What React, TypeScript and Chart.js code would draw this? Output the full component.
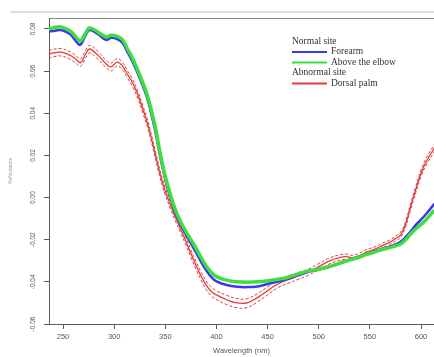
import React, { useEffect, useRef } from 'react';
import { Chart, registerables } from 'chart.js';

Chart.register(...registerables);

// Wavelength (nm)
const wavelengths = [
  236, 240, 248, 257, 263, 267, 272, 276, 284, 292, 297, 303, 308, 313, 318, 323, 328, 333, 340, 345,
  350, 355, 360, 365, 370, 375, 380, 385, 390, 395, 400, 410, 420, 430, 440, 450, 460, 470, 480, 490,
  500, 510, 520, 527, 533, 540, 547, 555, 562, 569, 575, 580, 585, 590, 595, 600, 605, 613,
];

// Normal site – Above the elbow
const aboveElbow = [
  0.0800, 0.0805, 0.0810, 0.0790, 0.0760, 0.0743, 0.0780, 0.0805, 0.0786, 0.0762, 0.0770, 0.0765, 0.0750, 0.0705, 0.0660, 0.0605, 0.0545, 0.0476, 0.0340, 0.0210,
  0.0100, 0.0015, -0.0060, -0.0115, -0.0160, -0.0200, -0.0240, -0.0285, -0.0325, -0.0355, -0.0375, -0.0392, -0.0400, -0.0402, -0.0400, -0.0395, -0.0388, -0.0378, -0.0362, -0.0348,
  -0.0340, -0.0328, -0.0312, -0.0302, -0.0292, -0.0282, -0.0270, -0.0258, -0.0247, -0.0238, -0.0230, -0.0220, -0.0200, -0.0172, -0.0148, -0.0128, -0.0105, -0.0060,
];

// Normal site – Forearm
const forearm = [
  0.0788, 0.0790, 0.0795, 0.0775, 0.0740, 0.0725, 0.0770, 0.0795, 0.0776, 0.0748, 0.0758, 0.0752, 0.0735, 0.0690, 0.0645, 0.0590, 0.0530, 0.0460, 0.0320, 0.0195,
  0.0085, 0.0000, -0.0075, -0.0130, -0.0175, -0.0218, -0.0260, -0.0305, -0.0345, -0.0378, -0.0398, -0.0415, -0.0423, -0.0425, -0.0422, -0.0410, -0.0398, -0.0385, -0.0368, -0.0352,
  -0.0342, -0.0330, -0.0312, -0.0300, -0.0290, -0.0280, -0.0268, -0.0255, -0.0243, -0.0233, -0.0222, -0.0210, -0.0188, -0.0160, -0.0130, -0.0105, -0.0078, -0.0030,
];

// Abnormal site – Dorsal palm (mean)
const dorsalPalm = [
  0.0680, 0.0686, 0.0690, 0.0675, 0.0655, 0.0640, 0.0680, 0.0705, 0.0676, 0.0635, 0.0620, 0.0643, 0.0625, 0.0585, 0.0545, 0.0490, 0.0420, 0.0345, 0.0210, 0.0110,
  0.0030, -0.0035, -0.0095, -0.0150, -0.0206, -0.0266, -0.0321, -0.0373, -0.0416, -0.0446, -0.0462, -0.0485, -0.0500, -0.0500, -0.0475, -0.0442, -0.0410, -0.0390, -0.0372, -0.0354,
  -0.0328, -0.0302, -0.0285, -0.0280, -0.0286, -0.0275, -0.0258, -0.0245, -0.0228, -0.0214, -0.0195, -0.0178, -0.0125, -0.0040, 0.0040, 0.0115, 0.0170, 0.0235,
];

// Abnormal site – Dorsal palm (upper band)
const dorsalPalmUpper = [
  0.0698, 0.0703, 0.0707, 0.0692, 0.0672, 0.0657, 0.0697, 0.0722, 0.0694, 0.0652, 0.0638, 0.0660, 0.0642, 0.0602, 0.0562, 0.0507, 0.0437, 0.0362, 0.0227, 0.0127,
  0.0047, -0.0018, -0.0078, -0.0133, -0.0188, -0.0248, -0.0302, -0.0354, -0.0396, -0.0425, -0.0442, -0.0464, -0.0479, -0.0480, -0.0456, -0.0424, -0.0393, -0.0373, -0.0356, -0.0339,
  -0.0313, -0.0288, -0.0272, -0.0268, -0.0274, -0.0263, -0.0246, -0.0234, -0.0217, -0.0203, -0.0184, -0.0166, -0.0112, -0.0026, 0.0055, 0.0130, 0.0186, 0.0252,
];

// Abnormal site – Dorsal palm (lower band)
const dorsalPalmLower = [
  0.0660, 0.0667, 0.0672, 0.0656, 0.0636, 0.0622, 0.0661, 0.0686, 0.0657, 0.0617, 0.0601, 0.0624, 0.0607, 0.0567, 0.0527, 0.0472, 0.0402, 0.0327, 0.0192, 0.0092,
  0.0012, -0.0053, -0.0113, -0.0168, -0.0224, -0.0284, -0.0340, -0.0392, -0.0436, -0.0467, -0.0484, -0.0508, -0.0523, -0.0522, -0.0496, -0.0462, -0.0428, -0.0407, -0.0388, -0.0369,
  -0.0342, -0.0316, -0.0298, -0.0292, -0.0298, -0.0287, -0.0270, -0.0256, -0.0239, -0.0225, -0.0206, -0.0190, -0.0138, -0.0054, 0.0025, 0.0100, 0.0154, 0.0218,
];

const xTickValues = [250, 300, 350, 400, 450, 500, 550, 600];
const yTickValues = [-0.06, -0.04, -0.02, 0.0, 0.02, 0.04, 0.06, 0.08];

const legendHeaders = ['Normal site', 'Abnormal site'];
const legendLabels = ['Forearm', 'Above the elbow', 'Dorsal palm'];

const COLORS = {
  blue: '#3a3aea',
  green: '#3ede3e',
  red: '#e03c3c',
  axis: '#5a5a5a',
  text: '#555555',
};

const toPoints = (ys: number[]) => wavelengths.map((x, i) => ({ x, y: ys[i] }));

const decorPlugin = {
  id: 'decor',
  beforeDraw(chart: any) {
    const ctx = chart.ctx;
    const a = chart.chartArea;
    ctx.save();
    ctx.fillStyle = '#ffffff';
    ctx.fillRect(0, 0, chart.width, chart.height);
    ctx.strokeStyle = '#d2d2d2';
    ctx.lineWidth = 1.5;
    ctx.beginPath();
    ctx.moveTo(10, 12);
    ctx.lineTo(chart.width, 12);
    ctx.stroke();
    ctx.strokeStyle = '#8a8a8a';
    ctx.lineWidth = 1;
    ctx.beginPath();
    ctx.moveTo(a.left, a.top + 0.5);
    ctx.lineTo(a.right, a.top + 0.5);
    ctx.stroke();
    ctx.restore();
  },
  afterDraw(chart: any) {
    const ctx = chart.ctx;
    ctx.save();
    ctx.font = '9.5px "Liberation Serif", "Times New Roman", serif';
    ctx.fillStyle = '#333';
    ctx.textBaseline = 'middle';
    ctx.textAlign = 'left';
    const x0 = 292;
    const lineEnd = 327;
    const textX = 331;
    const rows = [
      { t: legendHeaders[0], c: null },
      { t: legendLabels[0], c: COLORS.blue },
      { t: legendLabels[1], c: COLORS.green },
      { t: legendHeaders[1], c: null },
      { t: legendLabels[2], c: COLORS.red },
    ];
    const ys = [41.5, 51.5, 62, 72.5, 83];
    rows.forEach((r, i) => {
      const y = ys[i];
      if (r.c) {
        ctx.strokeStyle = r.c;
        ctx.lineWidth = 2;
        ctx.beginPath();
        ctx.moveTo(x0, y + 0.5);
        ctx.lineTo(lineEnd, y + 0.5);
        ctx.stroke();
        ctx.fillText(r.t, textX, y);
      } else {
        ctx.fillText(r.t, x0, y);
      }
    });
    ctx.restore();
  },
};

export default function App() {
  const ref = useRef<HTMLCanvasElement | null>(null);
  useEffect(() => {
    if (!ref.current) return;
    const chart = new Chart(ref.current, {
      type: 'line',
      data: {
        datasets: [
          {
            label: 'Above the elbow',
            data: toPoints(aboveElbow),
            borderColor: COLORS.green,
            borderWidth: 3.5,
            pointRadius: 0,
            tension: 0.4,
          },
          {
            label: 'Forearm',
            data: toPoints(forearm),
            borderColor: COLORS.blue,
            borderWidth: 2.5,
            pointRadius: 0,
            tension: 0.4,
          },
          {
            label: 'Dorsal palm',
            data: toPoints(dorsalPalm),
            borderColor: COLORS.red,
            borderWidth: 1.3,
            pointRadius: 0,
            tension: 0.4,
          },
          {
            label: 'Dorsal palm upper',
            data: toPoints(dorsalPalmUpper),
            borderColor: COLORS.red,
            borderWidth: 1,
            borderDash: [3, 2],
            pointRadius: 0,
            tension: 0.4,
          },
          {
            label: 'Dorsal palm lower',
            data: toPoints(dorsalPalmLower),
            borderColor: COLORS.red,
            borderWidth: 1,
            borderDash: [3, 2],
            pointRadius: 0,
            tension: 0.4,
          },
        ],
      },
      options: {
        animation: false,
        responsive: false,
        maintainAspectRatio: false,
        layout: { padding: { top: 18, left: 0, right: 0, bottom: 0 } },
        plugins: { legend: { display: false }, tooltip: { enabled: false } },
        scales: {
          x: {
            type: 'linear',
            min: 236.3,
            max: 612.7,
            afterBuildTicks: (s: any) => {
              s.ticks = xTickValues.map((v) => ({ value: v }));
            },
            afterFit: (s: any) => {
              s.height = 33;
            },
            grid: {
              display: true,
              drawOnChartArea: false,
              drawTicks: true,
              tickLength: 5,
              color: COLORS.axis,
            },
            border: { display: true, color: COLORS.axis, width: 1 },
            ticks: {
              color: COLORS.text,
              padding: 3,
              maxRotation: 0,
              autoSkip: false,
              font: { family: '"Liberation Sans", Arial, sans-serif', size: 7.5 },
              callback: (v: any) => String(v),
            },
            title: {
              display: true,
              text: 'Wavelength (nm)',
              color: COLORS.text,
              font: { family: '"Liberation Sans", Arial, sans-serif', size: 7.5 },
              padding: { top: 0, bottom: 2 },
            },
          },
          y: {
            type: 'linear',
            min: -0.06,
            max: 0.0852,
            afterBuildTicks: (s: any) => {
              s.ticks = yTickValues.map((v) => ({ value: v }));
            },
            afterFit: (s: any) => {
              s.width = 49;
            },
            grid: {
              display: true,
              drawOnChartArea: false,
              drawTicks: true,
              tickLength: 5,
              color: COLORS.axis,
            },
            border: { display: true, color: COLORS.axis, width: 1 },
            ticks: {
              color: COLORS.text,
              padding: 3,
              minRotation: 90,
              maxRotation: 90,
              crossAlign: 'center',
              autoSkip: false,
              font: { family: '"Liberation Sans", Arial, sans-serif', size: 6.5 },
              callback: (v: any) => Number(v).toFixed(2),
            },
            title: {
              display: true,
              text: 'Reflectance',
              color: '#9a9ab0',
              font: { family: '"Liberation Sans", Arial, sans-serif', size: 5 },
              padding: { top: 8, bottom: 0 },
            },
          },
        },
      },
      plugins: [decorPlugin],
    });
    return () => chart.destroy();
  }, []);
  return (
    <div style={{ position: 'fixed', left: 0, top: 0, width: 434, height: 357, background: '#fff' }}>
      <canvas ref={ref} width={434} height={357} style={{ display: 'block' }} />
    </div>
  );
}
